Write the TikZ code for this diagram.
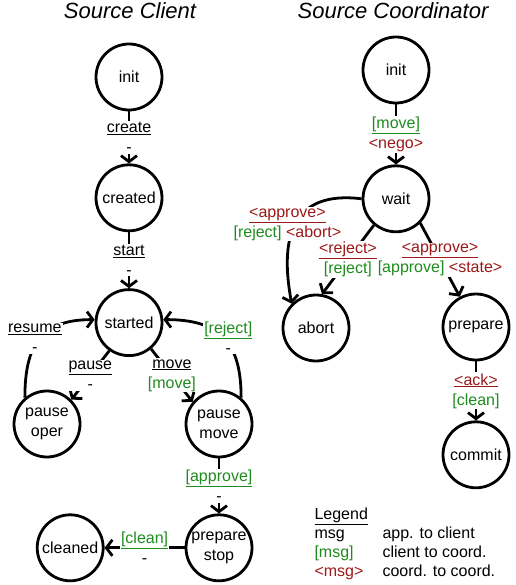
\documentclass[tikz,border=0pt]{standalone}
\usepackage{fontspec}
\setmainfont{Liberation Sans}
\usepackage{xcolor}
\usetikzlibrary{arrows.meta, positioning}

\definecolor{clientgreen}{RGB}{30,140,30}
\definecolor{coordred}{RGB}{155,25,25}
\newcommand{\climsg}[1]{\textcolor{clientgreen}{[#1]}}
\newcommand{\crdmsg}[1]{\textcolor{coordred}{<#1>}}
\newcommand{\ulclimsg}[1]{\textcolor{clientgreen}{\underline{[#1]}}}
\newcommand{\ulcrdmsg}[1]{\textcolor{coordred}{\underline{<#1>}}}

\begin{document}
\begin{tikzpicture}[
            x=1pt, y=1pt,
            font=\fontsize{16}{20}\selectfont,
            state/.style={draw, circle, line width=2.8pt, minimum size=66pt, inner sep=0pt, align=center},
            trans/.style={-{Straight Barb[length=6pt, width=16pt]}, line width=2.8pt},
            lbl/.style={fill=white, inner sep=1pt, align=center},
            title/.style={font=\fontsize{22}{26}\selectfont\itshape, anchor=base},
        ]
        \useasboundingbox (0,0) rectangle (515,-585);

            % Titles
            \node[title] (clientTitle) at (130,-19) {Source Client};
            \node[title] (coordTitle) at (393,-19) {Source Coordinator};

            % Nodes: source client
            \node[state] (cInit) at (129,-77) {init};
            \node[state, below=52pt of cInit] (cCreated) {created};
            \node[state, below=56pt of cCreated] (cStarted) {started};
            \node[state] (cPauseOper) at (47,-424) {pause\\oper};
            \node[state] (cPauseMove) at (219,-424) {pause\\move};
            \node[state, below=55pt of cPauseMove] (cPrepareStop) {prepare\\stop};
            \node[state, left=80pt of cPrepareStop] (cCleaned) {cleaned};

            % Nodes: source coordinator
            \node[state] (sInit) at (396,-70) {init};
            \node[state, below=60pt of sInit] (sWait) {wait};
            \node[state] (sAbort) at (316,-328) {abort};
            \node[state] (sPrepare) at (476,-327) {prepare};
            \node[state, below=59pt of sPrepare] (sCommit) {commit};

            % Arrows: source client
            \draw[trans] (cInit) -- node[lbl] {\underline{create}\\-} (cCreated);
            \draw[trans] (cCreated) -- node[lbl] {\underline{start}\\-} (cStarted);
            \draw[trans] (cStarted.235) -- node[lbl] {\underline{pause}\\-} (cPauseOper.45);
            \draw[trans] (cStarted.-50) -- node[lbl] {\underline{move}\\\climsg{move}} (cPauseMove.140);
            \draw[trans] (cPauseOper.130) to[out=90, in=180, looseness=1.3] node[lbl, xshift=-5pt] {\underline{resume}\\-} (cStarted.175);
            \draw[trans] (cPauseMove.50) to[out=90, in=0, looseness=1.3] node[lbl, xshift=5pt] {\ulclimsg{reject}\\-} (cStarted.5);
            \draw[trans] (cPauseMove) -- node[lbl] {\ulclimsg{approve}\\-} (cPrepareStop);
            \draw[trans] (cPrepareStop) -- node[lbl] {\ulclimsg{clean}\\-} (cCleaned);

            % Arrows: source coordinator
            \draw[trans] (sInit) -- node[lbl] {\ulclimsg{move}\\\crdmsg{nego}} (sWait);
            \draw[trans] (sWait.west) .. controls (290,-190) and (280,-240) .. node[lbl, xshift=-8pt] {\ulcrdmsg{approve}\\\climsg{reject} \crdmsg{abort}} (sAbort.135);
            \draw[trans] (sWait.230) -- node[lbl] {\ulcrdmsg{reject}\\\climsg{reject}} (sAbort.80);
            \draw[trans] (sWait.-45) -- node[lbl] {\ulcrdmsg{approve}\\\climsg{approve} \crdmsg{state}} (sPrepare);
            \draw[trans] (sPrepare) -- node[lbl] {\ulcrdmsg{ack}\\\climsg{clean}} (sCommit);

            % Legend
            \node[anchor=base west] (legendHead) at (311,-519) {\underline{Legend}};
            \node[anchor=base west] (legendApp) at (311,-538) {msg};
            \node[anchor=base west] (legendCli) at (311,-557) {\climsg{msg}};
            \node[anchor=base west] (legendCrd) at (311,-576) {\crdmsg{msg}};
            \node[anchor=base west] (legendAppTxt) at (379,-538) {app. to client};
            \node[anchor=base west] (legendCliTxt) at (379,-557) {client to coord.};
            \node[anchor=base west] (legendCrdTxt) at (379,-576) {coord. to coord.};

        \end{tikzpicture}
\end{document}
